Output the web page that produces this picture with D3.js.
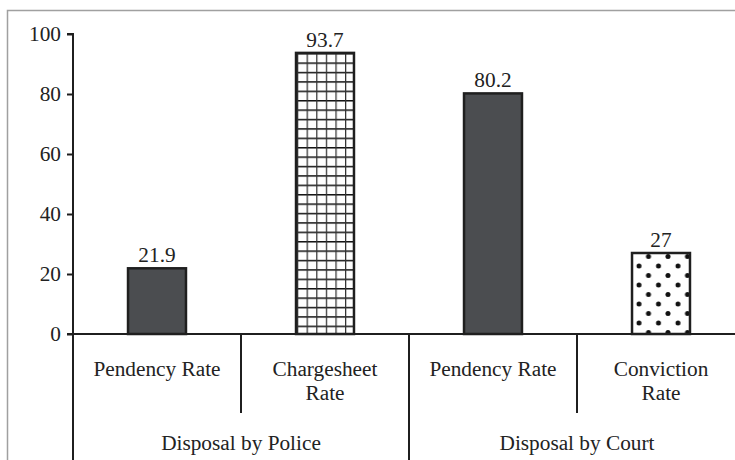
<!DOCTYPE html>
<html>
<head>
<meta charset="utf-8">
<script src="https://cdn.jsdelivr.net/npm/d3@7"></script>
<style>
  html, body { margin: 0; padding: 0; background: #fff; }
  svg { display: block; }
  text { font-family: "Liberation Serif", "Times New Roman", serif; fill: #222; }
</style>
</head>
<body>
<svg id="chart" width="735" height="460"></svg>
<script>
// Disposal rates (%) by police and by court
const categories = ["Pendency Rate", "Chargesheet Rate", "Pendency Rate", "Conviction Rate"];
const categoryLines = [["Pendency Rate"], ["Chargesheet", "Rate"], ["Pendency Rate"], ["Conviction", "Rate"]];
const groups = ["Disposal by Police", "Disposal by Court"];
const groupOf = [0, 0, 1, 1];
const values = [21.9, 93.7, 80.2, 27];
const valueLabels = ["21.9", "93.7", "80.2", "27"];
const fills = ["solid", "grid", "solid", "dots"];
const yTicks = [0, 20, 40, 60, 80, 100];

const svg = d3.select("#chart");
const W = 735, H = 460;
const plotLeft = 73, plotTop = 34, plotBottom = 334;
const ink = "#1f1f1f";
const fs = 21.3;

// outer frame
svg.append("path")
  .attr("d", `M7.5,${H} V10.5 H${W}`)
  .attr("fill", "none").attr("stroke", "#a0a0a0").attr("stroke-width", 1.5);

// patterns
const defs = svg.append("defs");
const grid = defs.append("pattern").attr("id", "grid")
  .attr("patternUnits", "userSpaceOnUse").attr("width", 9.6).attr("height", 9.4)
  .attr("x", 297).attr("y", 53);
grid.append("rect").attr("width", 9.6).attr("height", 9.4).attr("fill", "#fff");
grid.append("line").attr("x1", 0).attr("x2", 9.6).attr("y1", 0.7).attr("y2", 0.7)
  .attr("stroke", "#111").attr("stroke-width", 1.6);
grid.append("line").attr("y1", 0).attr("y2", 9.4).attr("x1", 0.6).attr("x2", 0.6)
  .attr("stroke", "#333").attr("stroke-width", 1.3);

const dots = defs.append("pattern").attr("id", "dots")
  .attr("patternUnits", "userSpaceOnUse").attr("width", 19.5).attr("height", 19)
  .attr("x", 629).attr("y", 299);
dots.append("rect").attr("width", 19.5).attr("height", 19).attr("fill", "#fff");
[[10, 5], [0, 14.5], [19.5, 14.5]].forEach(([cx, cy]) =>
  dots.append("circle").attr("cx", cx).attr("cy", cy).attr("r", 2.5).attr("fill", "#111"));

// scales
const x = d3.scaleBand().domain(d3.range(categories.length)).range([plotLeft, 745]).padding(0);
const y = d3.scaleLinear().domain([0, 100]).range([plotBottom, plotTop]);
const barW = x.bandwidth() * 0.345;

// bars
const fillFor = f => f === "solid" ? "#4b4d50" : f === "grid" ? "url(#grid)" : "url(#dots)";
svg.append("g").selectAll("rect").data(values).join("rect")
  .attr("x", (d, i) => x(i) + (x.bandwidth() - barW) / 2)
  .attr("y", d => y(d))
  .attr("width", barW)
  .attr("height", d => y(0) - y(d))
  .attr("fill", (d, i) => fillFor(fills[i]))
  .attr("stroke", ink).attr("stroke-width", 2.5);

// value labels
svg.append("g").selectAll("text").data(values).join("text")
  .attr("x", (d, i) => x(i) + x.bandwidth() / 2)
  .attr("y", d => y(d) - 6)
  .attr("text-anchor", "middle")
  .attr("font-size", fs)
  .text((d, i) => valueLabels[i]);

// y axis
const yAxis = d3.axisLeft(y).tickValues(yTicks).tickSize(6).tickPadding(6).tickFormat(d3.format("d"));
const gy = svg.append("g").attr("transform", `translate(${plotLeft},0)`).call(yAxis);
gy.select(".domain").attr("stroke", ink).attr("stroke-width", 2).attr("d", `M-6,${plotTop}H0V${plotBottom}`);
gy.selectAll(".tick line").attr("stroke", ink).attr("stroke-width", 2);
gy.selectAll(".tick text").attr("font-size", fs).attr("font-family", "Liberation Serif, serif").attr("fill", "#222");

// x axis baseline
svg.append("line").attr("x1", 67).attr("x2", W).attr("y1", plotBottom).attr("y2", plotBottom)
  .attr("stroke", ink).attr("stroke-width", 2);

// dividers between categories (within group) and between groups
const divs = svg.append("g").attr("stroke", ink).attr("stroke-width", 2);
x.domain().forEach(i => {
  const xx = x(i);
  const isGroupEdge = i === 0 || groupOf[i] !== groupOf[i - 1];
  divs.append("line").attr("x1", xx).attr("x2", xx).attr("y1", plotBottom)
    .attr("y2", isGroupEdge ? H : 413);
});

// category labels
const catG = svg.append("g").attr("font-size", fs).attr("text-anchor", "middle");
categoryLines.forEach((lines, i) => {
  const t = catG.append("text").attr("x", x(i) + x.bandwidth() / 2).attr("y", 376);
  lines.forEach((ln, k) => t.append("tspan").attr("x", x(i) + x.bandwidth() / 2)
    .attr("dy", k === 0 ? 0 : 24).text(ln));
});

// group labels
groups.forEach((g, gi) => {
  const idx = d3.range(categories.length).filter(i => groupOf[i] === gi);
  const x0 = x(idx[0]), x1 = x(idx[idx.length - 1]) + x.bandwidth();
  svg.append("text").attr("x", (x0 + x1) / 2).attr("y", 450)
    .attr("text-anchor", "middle").attr("font-size", fs).text(g);
});
</script>
</body>
</html>
